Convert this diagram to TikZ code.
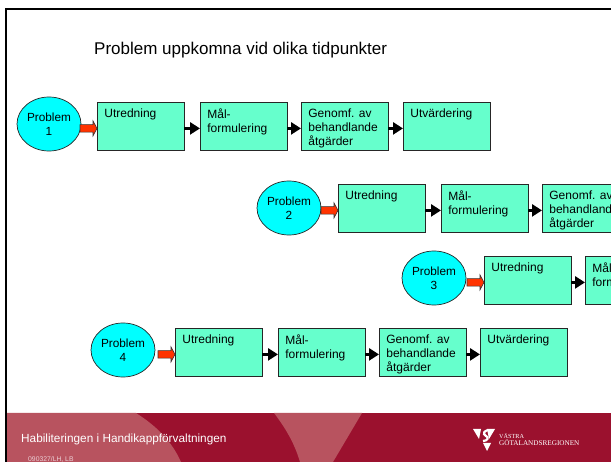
\documentclass[tikz,border=0pt]{standalone}
\usepackage{fontspec}
\setmainfont{Liberation Sans}
\newfontfamily\logofont{Liberation Serif}
\usetikzlibrary{shapes.geometric,arrows.meta,calc}
\definecolor{boxgreen}{HTML}{66FFCC}
\definecolor{probcyan}{HTML}{00FFFF}
\definecolor{arrowred}{HTML}{FF3300}
\definecolor{footred}{HTML}{9B112E}
\definecolor{footlight}{HTML}{B8535F}
\newcommand{\boxt}[1]{\parbox[c][48pt][t]{87pt}{\vspace{6.5pt}\fontsize{12}{14}\selectfont\raggedright\leftskip=7pt #1\par}}
\tikzset{
  x=1pt,y=-1pt,
  stepbox/.style={draw=black!85,line width=.8pt,fill=boxgreen,anchor=north west,inner sep=0pt,minimum width=87pt,minimum height=48pt},
  prob/.style={ellipse,draw=black!85,line width=.7pt,fill=probcyan,inner sep=0pt,minimum width=64pt,minimum height=54pt,align=center,font=\fontsize{11.8}{14}\selectfont},
  blackconn/.style={draw=black,line width=3.6pt,-{Triangle[length=10pt,width=12pt]},shorten <=-.5pt},
  redconn/.style={draw=black!80,line width=.6pt,fill=arrowred,to path={
    let \p1=(\tikztostart),\p2=(\tikztotarget) in
    (\x1,\y1-3.8) -- (\x2-4,\y2-3.8) -- (\x2-4,\y2-7.5) -- (\x2,\y2) -- (\x2-4,\y2+7.5) -- (\x2-4,\y2+3.8) -- (\x1,\y1+3.8) -- cycle}},
}
\begin{document}
\begin{tikzpicture}
\useasboundingbox (0,0) rectangle (611,462);
\clip (0,0) rectangle (611,462);
\fill[white] (0,0) rectangle (611,462);
% footer
\fill[footred] (7,413) rectangle (611,462);
\fill[footlight] (7,413) -- (136,413) .. controls (158,427) and (172,442) .. (181,462) -- (7,462) -- cycle;
\fill[footlight] (274,413) -- (362,413) -- (333,462) -- (300,462) .. controls (295,445) and (287,430) .. (274,413) -- cycle;
% frame
\draw[black,line width=2pt] (6,462) -- (6,9) -- (611,9);
% title
\node[anchor=west,inner sep=0pt,font=\fontsize{17}{20}\selectfont] (title) at (94,50.5) {Problem uppkomna vid olika tidpunkter};
% row 1
\node[prob] (p1) at (49,124) {Problem\\1};
\node[stepbox] (a1) at (97,102) {\boxt{Utredning}};
\node[stepbox] (b1) at (200,102) {\boxt{Mål-\\formulering}};
\node[stepbox] (c1) at (301,102) {\boxt{Genomf. av\\behandlande\\åtgärder}};
\node[stepbox] (d1) at (403,102) {\boxt{Utvärdering}};
% row 2
\node[prob] (p2) at (289,208) {Problem\\2};
\node[stepbox] (a2) at (338,184) {\boxt{Utredning}};
\node[stepbox] (b2) at (441,184) {\boxt{Mål-\\formulering}};
\node[stepbox] (c2) at (542,184) {\boxt{Genomf. av\\behandlande\\åtgärder}};
% row 3
\node[prob] (p3) at (434,278) {Problem\\3};
\node[stepbox] (a3) at (484,256) {\boxt{Utredning}};
\node[stepbox] (b3) at (585,256) {\boxt{Mål-\\formulering}};
% row 4
\node[prob] (p4) at (123,350) {Problem\\4};
\node[stepbox] (a4) at (175,328) {\boxt{Utredning}};
\node[stepbox] (b4) at (278,328) {\boxt{Mål-\\formulering}};
\node[stepbox] (c4) at (379,328) {\boxt{Genomf. av\\behandlande\\åtgärder}};
\node[stepbox] (d4) at (480,328) {\boxt{Utvärdering}};
% connectors
\foreach \u/\v in {a1/b1,b1/c1,c1/d1,a2/b2,b2/c2,a3/b3,a4/b4,b4/c4,c4/d4}
  \draw[blackconn] ($(\u.east)+(0,2)$) -- ($(\v.west)+(0,2)$);
\foreach \p/\u in {p1/a1,p2/a2,p3/a3,p4/a4}
  \draw[redconn] ($(\u.west)+(-17,2)$) to ($(\u.west)+(0,2)$);
% footer text
\node[anchor=west,inner sep=0pt,text=white,font=\fontsize{11.8}{14}\selectfont] (foot) at (21,439) {Habiliteringen i Handikappförvaltningen};
\node[anchor=west,inner sep=0pt,text=white!80!footred,font=\fontsize{6.8}{8}\selectfont] (date) at (28,459) {090327/LH, LB};
% logo
\fill[white] (473,429) -- (481,429) -- (479,439) -- cycle;
\fill[white] (495,429) -- (487,429) -- (489,439) -- cycle;
\fill[white] (483,443) -- (491,443) -- (487,451) -- cycle;
\draw[white,line width=2.2pt] (491,430.5) .. controls (484,429) and (482,434) .. (486,436) .. controls (489,437) and (488,441) .. (483,441);
\node[anchor=west,inner sep=0pt,text=white,font=\logofont\fontsize{6.2}{7}\selectfont] (lg1) at (499,436) {VÄSTRA};
\node[anchor=west,inner sep=0pt,text=white,font=\logofont\fontsize{7.2}{8}\selectfont] (lg2) at (499,443) {GÖTALANDSREGIONEN};
\end{tikzpicture}
\end{document}
